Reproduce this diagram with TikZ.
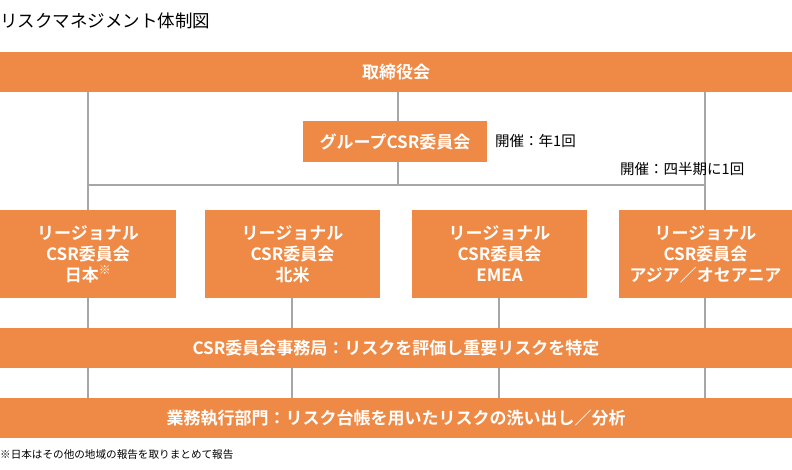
\documentclass[tikz,border=0pt]{standalone}
\usepackage{fontspec}
\setmainfont{Noto Sans CJK JP}
\newfontfamily\boldcjk{Noto Sans CJK JP Bold}
\definecolor{org}{HTML}{EE8A45}
\definecolor{ln}{HTML}{A6A6A6}
\begin{document}
\begin{tikzpicture}[x=1pt,y=-1pt,
  box/.style={fill=org,text=white,font=\boldcjk\fontsize{17}{21}\selectfont,align=center,inner sep=0pt},
  conn/.style={draw=ln,line width=2.2pt},
  lbl/.style={font=\fontsize{14.5}{17}\selectfont,anchor=west,inner sep=0pt}]
\useasboundingbox (0,0) rectangle (792,470);
\node[anchor=west,inner sep=0pt,font=\fontsize{17.5}{20}\selectfont] (title) at (0,21) {リスクマネジメント体制図};
\coordinate (hL) at (88,185); \coordinate (hR) at (705,185); \coordinate (hC) at (398,185);
\draw[conn] (88,92) -- (88,210);
\draw[conn] (705,92) -- (705,210);
\draw[conn] (398,92) -- (398,121);
\draw[conn] (398,162) -- (hC);
\draw[conn] (hL) -- (hR);
\foreach \x in {88,292,499,705}{
  \draw[conn] (\x,298) -- (\x,328);
  \draw[conn] (\x,368) -- (\x,398);
}
\node[box,minimum width=792pt,minimum height=40pt] (board) at (396,72) {取締役会};
\node[box,minimum width=184pt,minimum height=41pt] (grp) at (395,141.5) {グループCSR委員会};
\node[lbl] (l1) at (495,141) {開催：年1回};
\node[lbl] (l2) at (620,169) {開催：四半期に1回};
\node[box,minimum width=176pt,minimum height=88pt] (r1) at (88,254) {リージョナル\\CSR委員会\\日本\textsuperscript{※}};
\node[box,minimum width=175pt,minimum height=88pt] (r2) at (292.5,254) {リージョナル\\CSR委員会\\北米};
\node[box,minimum width=175pt,minimum height=88pt] (r3) at (499.5,254) {リージョナル\\CSR委員会\\EMEA};
\node[box,minimum width=173pt,minimum height=88pt] (r4) at (705.5,254) {リージョナル\\CSR委員会\\アジア／オセアニア};
\node[box,minimum width=792pt,minimum height=40pt] (sec) at (396,348) {CSR委員会事務局：リスクを評価し重要リスクを特定};
\node[box,minimum width=792pt,minimum height=40pt] (ops) at (396,418) {業務執行部門：リスク台帳を用いたリスクの洗い出し／分析};
\node[anchor=west,inner sep=0pt,font=\fontsize{10.6}{12}\selectfont] (note) at (0,455) {※日本はその他の地域の報告を取りまとめて報告};
\end{tikzpicture}
\end{document}
